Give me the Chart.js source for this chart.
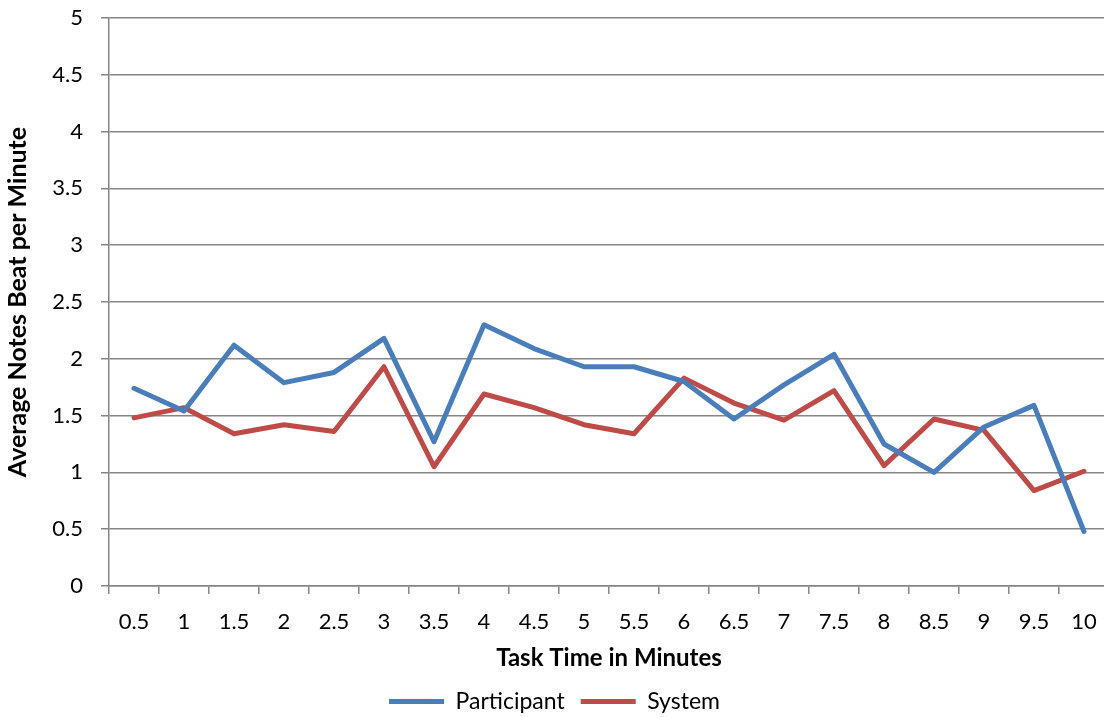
<!DOCTYPE html>
<html>
<head>
<meta charset="utf-8">
<script src="https://cdn.jsdelivr.net/npm/chart.js@4.4.1/dist/chart.umd.min.js"></script>
<style>
  html, body { margin: 0; padding: 0; background: #fff; overflow: hidden; }
  #wrap { width: 1120px; height: 717px; }
</style>
</head>
<body>
<div id="wrap"><canvas id="bpmChart" width="1120" height="717"></canvas></div>
<script>
// minutes into the task
const timeLabels = ['0.5', '1', '1.5', '2', '2.5', '3', '3.5', '4', '4.5', '5',
                    '5.5', '6', '6.5', '7', '7.5', '8', '8.5', '9', '9.5', '10'];

// average notes beat per minute
const participant = [1.74, 1.54, 2.12, 1.79, 1.88, 2.18, 1.27, 2.30, 2.09, 1.93,
                     1.93, 1.80, 1.47, 1.77, 2.04, 1.25, 1.00, 1.40, 1.59, 0.48];
const system = [1.48, 1.57, 1.34, 1.42, 1.36, 1.93, 1.05, 1.69, 1.57, 1.42,
                1.34, 1.83, 1.61, 1.46, 1.72, 1.06, 1.47, 1.37, 0.84, 1.01];

const yMin = 0, yMax = 5, yStep = 0.5;

const FONT = "Lato, 'Open Sans', sans-serif";
const AXIS_GREY = '#868686';

const ctx = document.getElementById('bpmChart').getContext('2d');
const bpmChart = new Chart(ctx, {
    type: 'line',
    data: {
        labels: timeLabels,
        datasets: [
            {
                label: 'Participant',
                data: participant,
                borderColor: '#4A7EBB',
                backgroundColor: '#4A7EBB',
                borderWidth: 5,
                pointRadius: 0,
                tension: 0,
                borderCapStyle: 'round',
                borderJoinStyle: 'round'
            },
            {
                label: 'System',
                data: system,
                borderColor: '#BE4B48',
                backgroundColor: '#BE4B48',
                borderWidth: 5,
                pointRadius: 0,
                tension: 0,
                borderCapStyle: 'round',
                borderJoinStyle: 'round'
            }
        ]
    },
    options: {
        responsive: false,
        animation: false,
        // plot runs a little past the right edge, legend sits low
        layout: { padding: { top: 18, right: 11, bottom: -6, left: 0 } },
        plugins: {
            tooltip: { enabled: false },
            legend: {
                position: 'bottom',
                labels: {
                    usePointStyle: true,
                    pointStyle: 'line',
                    pointStyleWidth: 55,
                    color: '#000',
                    font: { family: FONT, size: 23 },
                    padding: 16
                }
            }
        },
        scales: {
            x: {
                offset: true,
                grid: {
                    offset: true,
                    drawOnChartArea: false,
                    color: AXIS_GREY,
                    lineWidth: 1.5,
                    tickLength: 8
                },
                border: { color: AXIS_GREY, width: 1.5 },
                ticks: {
                    color: '#000',
                    font: { family: FONT, size: 22 },
                    padding: 15,
                    maxRotation: 0,
                    autoSkip: false
                },
                title: {
                    display: true,
                    text: 'Task Time in Minutes',
                    color: '#000',
                    font: { family: FONT, size: 24, weight: 'bold' },
                    padding: { top: 0, bottom: 1 }
                },
                afterFit: (scale) => {
                    scale.height = 88;
                    scale.paddingLeft = 0;
                    scale.paddingRight = 0;
                }
            },
            y: {
                min: yMin,
                max: yMax,
                grid: {
                    color: AXIS_GREY,
                    lineWidth: 1.5,
                    tickLength: 8
                },
                border: { color: AXIS_GREY, width: 1.5 },
                ticks: {
                    stepSize: yStep,
                    color: '#000',
                    font: { family: FONT, size: 22 },
                    padding: 18,
                    callback: (value) => String(value)
                },
                title: {
                    display: true,
                    text: 'Average Notes Beat per Minute',
                    color: '#000',
                    font: { family: FONT, size: 25, weight: 'bold' },
                    padding: { top: 3, bottom: 0 }
                },
                afterFit: (scale) => {
                    scale.width = 109;
                    scale.paddingTop = 0;
                    scale.paddingBottom = 0;
                }
            }
        }
    }
});
</script>
</body>
</html>
